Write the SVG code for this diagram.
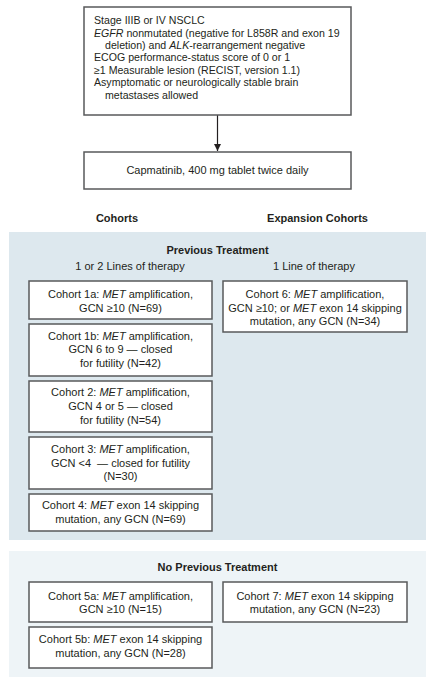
<svg xmlns="http://www.w3.org/2000/svg" width="432" height="679" viewBox="0 0 432 679">
<defs>
<style>
text{font-family:"Liberation Sans",Arial,sans-serif;font-size:11px;fill:#231f20}
.t{font-size:10.6px}
.c{text-anchor:middle}
.b{font-weight:bold}
.i{font-style:italic}
.box{fill:#fff;stroke:#58595b;stroke-width:1.5}
.p1{fill:#dde8ee}
.p2{fill:#eef4f7}
.conn{stroke:#231f20;stroke-width:1.2;fill:none}
</style>
<marker id="ah" markerWidth="8" markerHeight="8" refX="7" refY="4" orient="auto" markerUnits="userSpaceOnUse">
<path d="M0,0.5 L7,4 L0,7.5 Z" fill="#231f20"/>
</marker>
</defs>
<rect width="432" height="679" fill="#fff"/>
<rect class="p1" x="9" y="232" width="417" height="308"/>
<rect class="p2" x="9" y="551" width="417" height="126"/>

<g id="connectors">
<line class="conn" x1="217.5" y1="115" x2="217.5" y2="151" marker-end="url(#ah)"/>
</g>

<g id="eligibility">
<rect class="box" x="84" y="7" width="267" height="108"/>
<text class="t" x="94" y="24">Stage IIIB or IV NSCLC</text>
<text class="t" x="94" y="36.5"><tspan class="i">EGFR</tspan> nonmutated (negative for L858R and exon 19</text>
<text class="t" x="105" y="48.8">deletion) and <tspan class="i">ALK</tspan>-rearrangement negative</text>
<text class="t" x="94" y="61.2">ECOG performance-status score of 0 or 1</text>
<text class="t" x="94" y="73.6">≥1 Measurable lesion (RECIST, version 1.1)</text>
<text class="t" x="94" y="86">Asymptomatic or neurologically stable brain</text>
<text class="t" x="105" y="98.5">metastases allowed</text>
</g>

<g id="treatment">
<rect class="box" x="84" y="152" width="267" height="37"/>
<text class="c" x="217.5" y="174">Capmatinib, 400 mg tablet twice daily</text>
</g>

<g id="headers">
<text class="c b" x="117" y="222">Cohorts</text>
<text class="c b" x="317.5" y="222">Expansion Cohorts</text>
<text class="c b" x="217.5" y="253.5">Previous Treatment</text>
<text class="c" x="130" y="269.5">1 or 2 Lines of therapy</text>
<text class="c" x="314" y="269.5">1 Line of therapy</text>
<text class="c b" x="217.5" y="571">No Previous Treatment</text>
</g>

<g id="cohort1a">
<rect class="box" x="29" y="281" width="183" height="38"/>
<text class="c" x="120.5" y="298.3">Cohort 1a: <tspan class="i">MET</tspan> amplification,</text>
<text class="c" x="120.5" y="311.6">GCN ≥10 (N=69)</text>
</g>

<g id="cohort6">
<rect class="box" x="223" y="281" width="184" height="51"/>
<text class="c" x="315" y="298.3">Cohort 6: <tspan class="i">MET</tspan> amplification,</text>
<text class="c" x="315" y="311.6">GCN ≥10; or <tspan class="i">MET</tspan> exon 14 skipping</text>
<text class="c" x="315" y="324.9">mutation, any GCN (N=34)</text>
</g>

<g id="cohort1b">
<rect class="box" x="29" y="324" width="183" height="52"/>
<text class="c" x="120.5" y="339.5">Cohort 1b: <tspan class="i">MET</tspan> amplification,</text>
<text class="c" x="120.5" y="353.2">GCN 6 to 9 — closed</text>
<text class="c" x="120.5" y="366.9">for futility (N=42)</text>
</g>

<g id="cohort2">
<rect class="box" x="29" y="381" width="183" height="51"/>
<text class="c" x="120.5" y="396.2">Cohort 2: <tspan class="i">MET</tspan> amplification,</text>
<text class="c" x="120.5" y="409.9">GCN 4 or 5 — closed</text>
<text class="c" x="120.5" y="423.6">for futility (N=54)</text>
</g>

<g id="cohort3">
<rect class="box" x="29" y="437" width="183" height="52"/>
<text class="c" x="120.5" y="452.8">Cohort 3: <tspan class="i">MET</tspan> amplification,</text>
<text class="c" x="120.5" y="466.5">GCN &lt;4 &#160;— closed for futility</text>
<text class="c" x="120.5" y="480.2">(N=30)</text>
</g>

<g id="cohort4">
<rect class="box" x="29" y="494" width="183" height="37"/>
<text class="c" x="120.5" y="509.4">Cohort 4: <tspan class="i">MET</tspan> exon 14 skipping</text>
<text class="c" x="120.5" y="523.1">mutation, any GCN (N=69)</text>
</g>

<g id="cohort5a">
<rect class="box" x="29" y="582" width="183" height="40"/>
<text class="c" x="120.5" y="600">Cohort 5a: <tspan class="i">MET</tspan> amplification,</text>
<text class="c" x="120.5" y="613.4">GCN ≥10 (N=15)</text>
</g>

<g id="cohort7">
<rect class="box" x="223" y="582" width="184" height="40"/>
<text class="c" x="315" y="600">Cohort 7: <tspan class="i">MET</tspan> exon 14 skipping</text>
<text class="c" x="315" y="613.4">mutation, any GCN (N=23)</text>
</g>

<g id="cohort5b">
<rect class="box" x="29" y="627" width="183" height="41"/>
<text class="c" x="120.5" y="642.8">Cohort 5b: <tspan class="i">MET</tspan> exon 14 skipping</text>
<text class="c" x="120.5" y="656.5">mutation, any GCN (N=28)</text>
</g>
</svg>
